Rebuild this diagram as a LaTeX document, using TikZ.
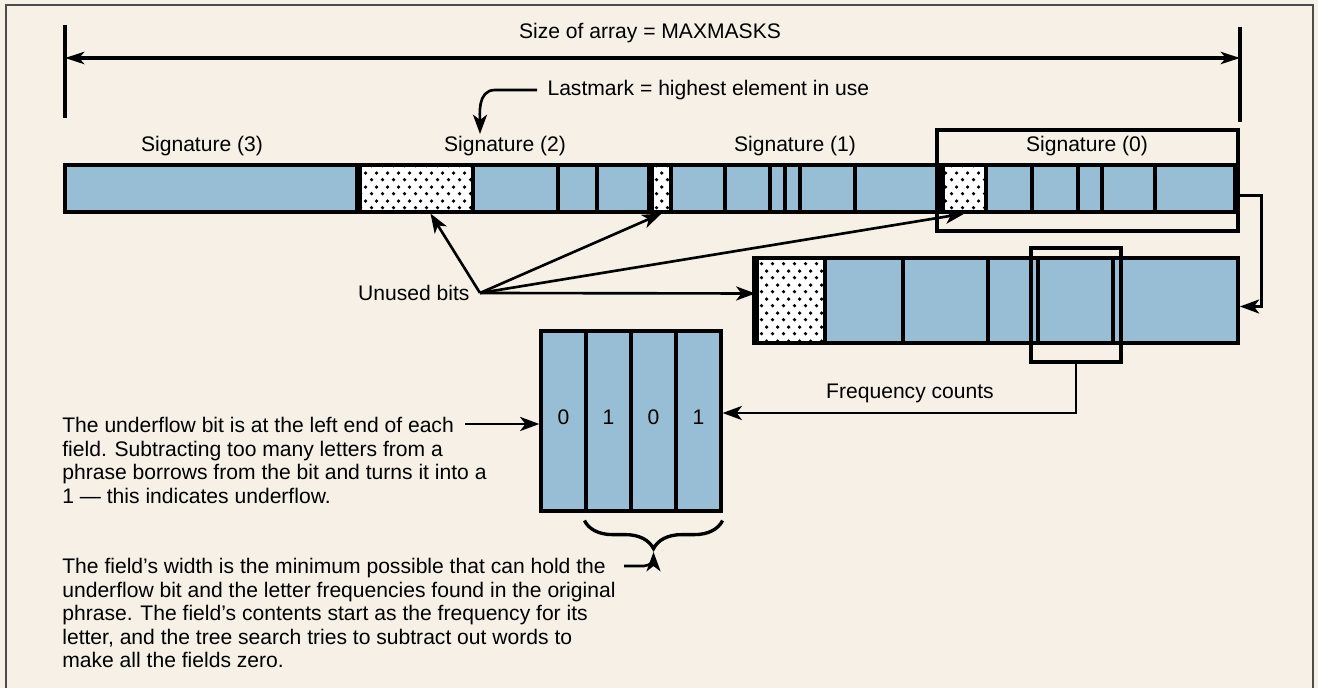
\documentclass[tikz,border=0pt]{standalone}
\usepackage{fontspec}
\setmainfont{Liberation Sans}
\usetikzlibrary{arrows.meta,calc,decorations.pathreplacing,patterns.meta}
\definecolor{sigblue}{RGB}{152,190,213}
\definecolor{paper}{RGB}{246,240,231}
\tikzdeclarepattern{
  name=sparsedots,
  type=uncolored,
  bottom left={(0pt,0pt)},
  top right={(6pt,8pt)},
  tile size={(6pt,8pt)},
  code={
    \fill (1.5pt,2pt) circle (1.1pt);
    \fill (4.5pt,6pt) circle (1.1pt);
  }
}
\begin{document}
\begin{tikzpicture}
[x=0.02cm,y=-0.02cm,
font=\fontsize{12pt}{13.4pt}\selectfont,
txt/.style={inner sep=0pt},
bar/.style={draw,line width=2.2pt,fill=sigblue,inner sep=0pt,minimum height=0.94cm},
unusedCell/.style={draw,line width=1.8pt,preaction={fill=white},pattern=sparsedots,inner sep=0pt,minimum height=0.94cm},
bitCell/.style={draw,line width=1.8pt,fill=sigblue,inner sep=0pt,minimum width=0.9cm,minimum height=3.6cm},
boxFrame/.style={draw,line width=1.8pt,inner sep=0pt},
divider/.style={line width=1.8pt},
heavy/.style={line width=3.6pt},
endBar/.style={line width=1.8pt},
dimLine/.style={<->,>={Stealth[length=11pt,width=7pt,inset=3pt]},line width=1.9pt},
pointer/.style={->,>={Stealth[length=11pt,width=8pt,inset=3pt]},line width=1.5pt},
curly/.style={decorate,decoration={brace,mirror,amplitude=16pt},line width=1.9pt}]
\useasboundingbox (0,0) rectangle (1318,688);
\fill[paper] (0,0) rectangle (1318,688);
\draw[black!70,line width=0.6pt] (6,700) -- (6,5) -- (1313,5) -- (1313,700);
\coordinate (c1) at (65,58);
\coordinate (c2) at (1240,58);
\coordinate (c3) at (480,134);
\coordinate (c4) at (465,424);
\coordinate (c5) at (624,566);
\coordinate (c6) at (653.5,552);
\node[bar,minimum width=23.4cm] (1) at (650,188.5) {};
\node[unusedCell,minimum width=2.26cm] (2) at (416.5,188.5) {};
\node[unusedCell,minimum width=0.38cm] (3) at (661.5,188.5) {};
\node[unusedCell,minimum width=0.86cm] (4) at (964.5,188.5) {};
\draw[divider,] (473,165) -- (473,212) ;
\draw[divider,] (558,165) -- (558,212) ;
\draw[divider,] (597,165) -- (597,212) ;
\draw[divider,] (725,165) -- (725,212) ;
\draw[divider,] (770,165) -- (770,212) ;
\draw[divider,] (785,165) -- (785,212) ;
\draw[divider,] (800,165) -- (800,212) ;
\draw[divider,] (855,165) -- (855,212) ;
\draw[divider,] (1032,165) -- (1032,212) ;
\draw[divider,] (1078,165) -- (1078,212) ;
\draw[divider,] (1102,165) -- (1102,212) ;
\draw[divider,] (1155,165) -- (1155,212) ;
\draw[heavy,] (2.north west) -- (2.south west) ;
\draw[heavy,] (3.north west) -- (3.south west) ;
\draw[heavy,] (4.north west) -- (4.south west) ;
\node[boxFrame,minimum width=6.02cm,minimum height=2.02cm] (5) at (1087.5,180.5) {};
\node[bar,minimum width=9.62cm,minimum height=1.70cm] (6) at (997.5,300.5) {};
\node[unusedCell,minimum width=1.36cm,minimum height=1.70cm] (7) at (791,300.5) {};
\draw[divider,] (903,258) -- (903,343) ;
\draw[divider,] (988,258) -- (988,343) ;
\draw[divider,] (1038,258) -- (1038,343) ;
\draw[divider,] (1113,258) -- (1113,343) ;
\draw[heavy,] (7.north west) -- (7.south west) ;
\node[boxFrame,minimum width=1.80cm,minimum height=2.28cm] (8) at (1076,305) {};
\node[bitCell,] (9) at (563.5,421) {\raisebox{4pt}{0}};
\node[bitCell,] (10) at (608.5,421) {\raisebox{4pt}{1}};
\node[bitCell,] (11) at (653.5,421) {\raisebox{4pt}{0}};
\node[bitCell,] (12) at (698.5,421) {\raisebox{4pt}{1}};
\node[txt,] (13) at (650,33) {Size of array = MAXMASKS};
\node[txt,anchor=west,outer xsep=6pt] (14) at (537,90) {Lastmark = highest element in use};
\node[txt,] (15) at (202,146) {Signature (3)};
\node[txt,] (16) at (505,146) {Signature (2)};
\node[txt,] (17) at (795,146) {Signature (1)};
\node[txt,] (18) at (1087,146) {Signature (0)};
\node[txt,anchor=east,outer xsep=6pt] (19) at (480,293) {Unused bits};
\node[txt,] (20) at (910,393) {Frequency counts};
\node[txt,anchor=north west,align=left] (21) at (62,417) {The underflow bit is at the left end of each\\field. Subtracting too many letters from a\\phrase borrows from the bit and turns it into a\\1 — this indicates underflow.};
\node[txt,anchor=north west,align=left] (22) at (62,558) {The field’s width is the minimum possible that can hold the\\underflow bit and the letter frequencies found in the original\\phrase. The field’s contents start as the frequency for its\\letter, and the tree search tries to subtract out words to\\make all the fields zero.};
\draw[endBar,] (65,25) -- (65,118) ;
\draw[endBar,] (1240,27) -- (1240,122) ;
\draw[dimLine,] (c1) -- (c2) ;
\draw[pointer,] (14.west) -- ++(-42,0) to[out=180,in=90] (c3) ;
\draw[pointer,] (19.east) -- ($(2.south)+(14,0)$) ;
\draw[pointer,] (19.east) -- (3.south) ;
\draw[pointer,] (19.east) -- (4.south) ;
\draw[pointer,] (19.east) -- ($(7.west)+(0,-7)$) ;
\draw[pointer,] ($(5.east)+(0,15)$) -- ++(22,0) |- ($(6.east)+(0,6)$) ;
\draw[pointer,] (8.south) |- ($(12.east)+(0,-8)$) ;
\draw[pointer,] (c4) -- (c4 -| 9.west) ;
\draw[curly,] ($(10.south west)+(0,8)$) -- ($(12.south east)+(0,8)$) ;
\draw[pointer,] (c5) -- ++(20,0) to[out=0,in=-90] (c6) ;
\end{tikzpicture}
\end{document}
